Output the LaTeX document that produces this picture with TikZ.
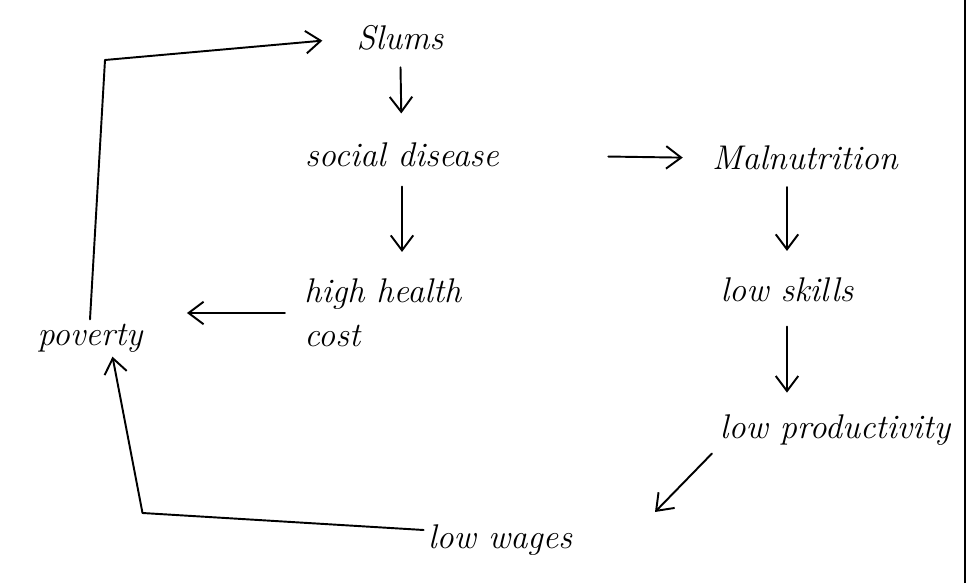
\documentclass[tikz,border=0pt]{standalone}
\usepackage{tikz}
\usetikzlibrary{arrows.meta, positioning, calc}

\tikzset{
  word/.style={font=\fontsize{19.5}{25}\selectfont\itshape, inner sep=2pt},
  arr/.style={-{Straight Barb[length=3mm, width=4.5mm]}, line width=1.1pt, line cap=round, line join=round}
}

\begin{document}
\begin{tikzpicture}[line width=1.1pt]
        \useasboundingbox (0,0) rectangle (19.4,11.66);
        % causes
        \node[word] (slums)   at (8.0,10.9) {Slums};
        \node[word] (disease) at (8.04,8.56) {social disease};
        \node[word] (malnu)   at (16.1,8.5)  {Malnutrition};
        \node[word, anchor=west, align=left] (health) at (6.0,5.4) {high health\\cost};
        \node[word] (skills)  at (15.74,5.86) {low skills};
        \node[word] (prod)    at (16.7,3.06) {low productivity};
        \node[word] (poverty) at (1.8,4.9) {poverty};
        \node[word] (wages)   at (10.0,0.86) {low wages};

        % loop back
        \coordinate (topbend) at (2.1,10.46);
        \coordinate (lowbend) at (2.85,1.4);
        \coordinate (povin) at ($(poverty.south)+(0.45,0)$);
        \coordinate (wagesin) at (13.1,1.42);

        \draw[arr, shorten <=2.5mm, shorten >=5mm] (slums) -- (disease);
        \draw[arr, shorten <=3mm, shorten >=4.5mm] (disease) -- (health.north -| disease);
        \draw[arr, shorten <=2.1cm, shorten >=5mm] (disease.east) -- (malnu.west);
        \draw[arr, shorten <=2.5mm, shorten >=4.5mm] (malnu.south -| skills) -- (skills);
        \draw[arr, shorten <=4mm, shorten >=3.5mm] (skills) -- (prod.north -| skills);
        \draw[arr, shorten <=1mm] (prod.south west) -- (wagesin);
        \draw[arr, shorten <=3mm, shorten >=8mm] (health.west) -- (health.west -| poverty.east);
        \draw[arr] ([yshift=2mm]wages.west) -- (lowbend) -- (povin);
        \draw[arr, shorten >=6mm] (poverty.north) -- (topbend) -- (slums.west);

        % page edge
        \draw[line width=1.4pt] (19.3,0) -- (19.3,11.66);
    \end{tikzpicture}
\end{document}
